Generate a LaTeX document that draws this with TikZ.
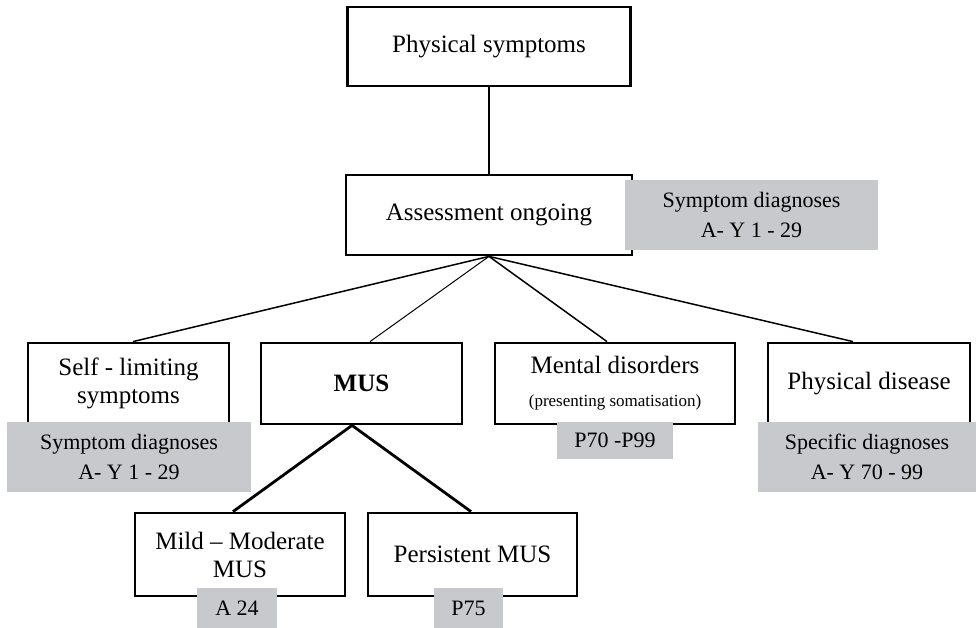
\documentclass[tikz,border=0pt]{standalone}
\usepackage{fontspec}
\setmainfont{Liberation Serif}
\usepackage{tikz}
\usetikzlibrary{positioning}
\definecolor{codegray}{RGB}{200,201,204}
\tikzset{
    %Define style for boxes
    stage/.style={
           rectangle,
           draw=black, line width=2.8pt,
           fill=white,
           inner sep=0pt,
           align=center,
           font=\fontsize{25}{28}\selectfont},
    %Define style for code labels
    codes/.style={
           rectangle,
           fill=codegray,
           inner sep=0pt,
           align=center,
           font=\fontsize{22}{30}\selectfont},
    % Define line styles
    link/.style={line width=1.5pt},
    thinlink/.style={line width=1pt},
    thicklink/.style={line width=2.8pt}
}

\begin{document}
\begin{tikzpicture}[x=1pt,y=-1pt]
\useasboundingbox (0,0) rectangle (976,628);
 %nodes
\node[stage, minimum width=283pt, minimum height=79pt] (phys) at (489,46.5) {Physical symptoms};
\node[stage, minimum width=286pt, minimum height=80pt] (assess) at (489,215) {Assessment ongoing};
\node[stage, minimum width=201pt, minimum height=81pt] (self) at (128.5,383.5) {Self - limiting\\symptoms};
\node[stage, minimum width=201pt, minimum height=81pt] (mus) at (361.5,383.5) {\textbf{MUS}};
\node[stage, minimum width=240pt, minimum height=81pt] (mental) at (615,383.5) {Mental disorders\\[5pt]{\fontsize{17}{20}\selectfont(presenting somatisation)}};
\node[stage, minimum width=202pt, minimum height=81pt] (physdis) at (869,383.5) {Physical disease};
\node[stage, minimum width=210pt, minimum height=83pt] (mild) at (240,554.5) {Mild -- Moderate\\MUS};
\node[stage, minimum width=209pt, minimum height=83pt] (pers) at (472.5,554.5) {Persistent MUS};

 \path[link]
    (phys.south) edge[thicklink] (assess.north)
    (assess.south) edge ([xshift=4.5pt]self.north)
    (assess.south) edge[thinlink] ([xshift=8.5pt]mus.north)
    (assess.south) edge ([xshift=-8pt]mental.north)
    (assess.south) edge ([xshift=-16pt]physdis.north)
    ([xshift=-9.5pt]mus.south) edge[thicklink] ([xshift=-7pt]mild.north)
    ([xshift=-9.5pt]mus.south) edge[thicklink] ([xshift=-1.5pt]pers.north);

 %code labels
\node[codes, minimum width=253pt, minimum height=70pt] (gassess) at (751.5,215) {Symptom diagnoses\\A- Y 1 - 29};
\node[codes, minimum width=244pt, minimum height=70pt] (gself) at (129,457) {Symptom diagnoses\\A- Y 1 - 29};
\node[codes, minimum width=116pt, minimum height=37pt] (gmental) at (615,440.5) {P70 -P99};
\node[codes, minimum width=218pt, minimum height=70pt] (gphys) at (867,457) {Specific diagnoses\\A- Y 70 - 99};
\node[codes, minimum width=80pt, minimum height=40pt] (gmild) at (237,608) {A 24};
\node[codes, minimum width=69pt, minimum height=40pt] (gpers) at (468.5,608) {P75};
\end{tikzpicture}
\end{document}
